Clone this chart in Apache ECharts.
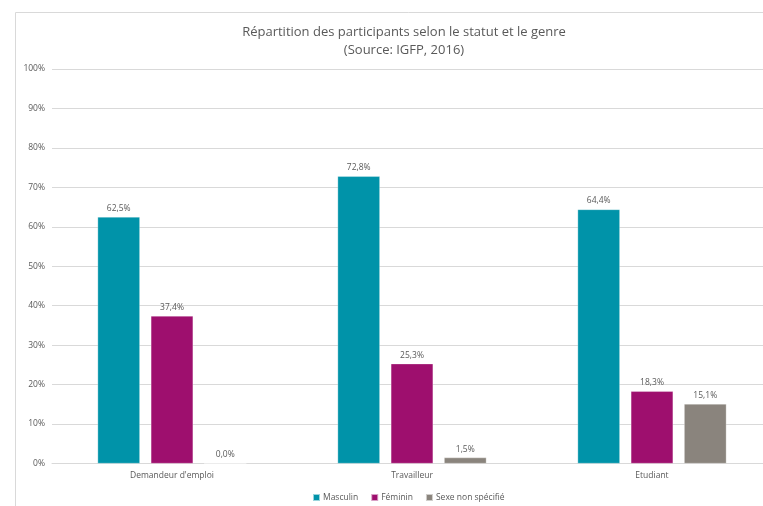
<!DOCTYPE html>
<html><head><meta charset="utf-8">
<script src="https://cdn.jsdelivr.net/npm/echarts@6/dist/echarts.min.js"></script>
<style>html,body{margin:0;padding:0;background:#fff;overflow:hidden}#c{width:800px;height:506px}</style>
</head><body><div id="c"></div>
<script>
const categories = ['Demandeur d\'emploi', 'Travailleur', 'Etudiant'];
const masculin = [62.5, 72.8, 64.4];
const feminin = [37.4, 25.3, 18.3];
const nonSpecifie = [0.0, 1.5, 15.1];
const seriesNames = ['Masculin', 'Féminin', 'Sexe non spécifié'];
const colors = ['#0093A9', '#9E0F6E', '#8A847D'];
const FONT = '"Open Sans", sans-serif';

const chart = echarts.init(document.getElementById('c'), null, {renderer: 'canvas'});
const fmt = p => p.value.toFixed(1).replace('.', ',') + '%';
function mk(name, data, i) {
  return {
    name, type: 'bar', data,
    barGap: '26%', barCategoryGap: '38%',
    itemStyle: {color: colors[i], borderColor: 'rgba(255,255,255,0.6)', borderWidth: 0.5},
    label: {show: true, position: 'top', distance: 4, formatter: fmt,
      color: '#595959', fontSize: 8.5, fontFamily: FONT}
  };
}
chart.setOption({
  animation: false,
  title: {
    text: 'Répartition des participants selon le statut et le genre\n(Source: IGFP, 2016)',
    left: 399, top: 18, textAlign: 'center',
    textStyle: {color: '#595959', fontSize: 13, fontWeight: 'normal', fontFamily: FONT, lineHeight: 18}
  },
  graphic: [{type: 'rect', shape: {x: 15.5, y: 12.5, width: 800, height: 520},
    style: {fill: 'none', stroke: '#d9d9d9', lineWidth: 1}, silent: true, z: -1}],
  legend: {
    top: 488, left: 307, itemWidth: 7, itemHeight: 7, itemGap: 12,
    icon: 'rect',
    textStyle: {color: '#595959', fontSize: 8.5, fontFamily: FONT, padding: [0, 0, 0, -2]},
    data: seriesNames
  },
  grid: {left: 52, top: 69, width: 720, bottom: 506 - 463.5, containLabel: false},
  xAxis: {
    type: 'category', data: categories,
    axisLine: {lineStyle: {color: '#d9d9d9'}}, axisTick: {show: false},
    axisLabel: {color: '#595959', fontSize: 8.5, fontFamily: FONT, margin: 8}
  },
  yAxis: {
    type: 'value', min: 0, max: 100, interval: 10,
    axisLabel: {formatter: '{value}%', color: '#595959', fontSize: 8.5, fontFamily: FONT, margin: 7},
    splitLine: {lineStyle: {color: '#d9d9d9'}},
    axisLine: {show: false}, axisTick: {show: false}
  },
  series: [mk(seriesNames[0], masculin, 0), mk(seriesNames[1], feminin, 1), mk(seriesNames[2], nonSpecifie, 2)]
});
</script></body></html>
